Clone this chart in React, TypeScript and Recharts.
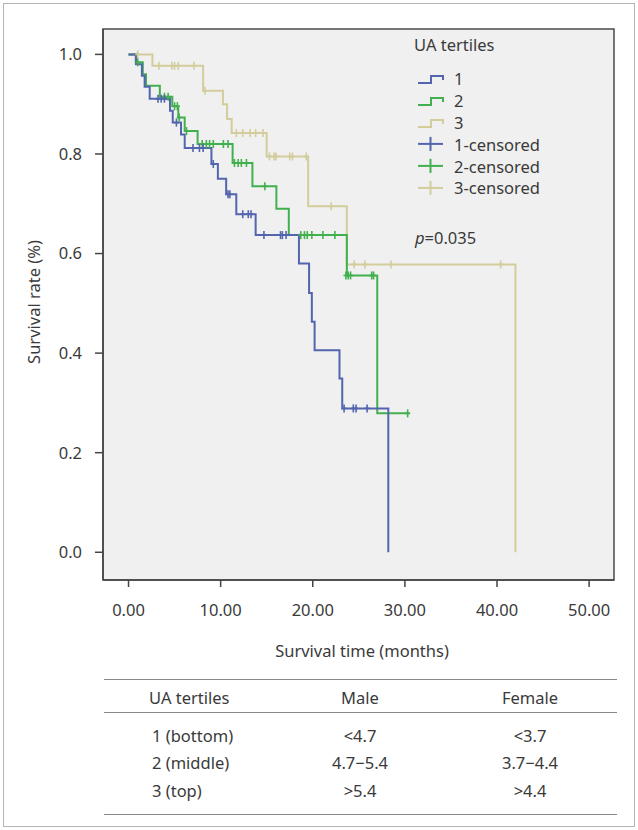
import React from "react";
import {
  ComposedChart,
  Line,
  Scatter,
  XAxis,
  YAxis,
  ReferenceArea,
} from "recharts";

// ---------- data (Kaplan-Meier steps) ----------
const T1_TIMES = [0, 0.8, 1.45, 1.75, 2.3, 4.5, 4.8, 5.7, 6.1, 9.0, 9.7, 10.6, 11.7, 13.8, 18.5, 19.6, 19.9, 20.2, 22.9, 23.2, 28.2];
const T1_SURV = [1.0, 0.98, 0.957, 0.935, 0.911, 0.887, 0.863, 0.839, 0.812, 0.78, 0.75, 0.719, 0.679, 0.637, 0.58, 0.521, 0.463, 0.406, 0.349, 0.289, 0.0];
const T1_CENS_T = [3.2, 3.55, 3.9, 5.2, 7.0, 7.7, 8.1, 9.2, 10.8, 11.0, 12.4, 13.0, 13.3, 14.7, 16.5, 16.7, 17.1, 23.4, 24.4, 24.7, 25.9];
const T1_CENS_S = [0.911, 0.911, 0.911, 0.863, 0.812, 0.812, 0.812, 0.78, 0.719, 0.719, 0.679, 0.679, 0.679, 0.637, 0.637, 0.637, 0.637, 0.289, 0.289, 0.289, 0.289];

const T2_TIMES = [0, 0.8, 1.55, 1.9, 3.4, 4.75, 5.4, 6.1, 7.5, 11.3, 13.45, 16.05, 17.4, 23.7, 27.0, 30.5];
const T2_SURV = [1.0, 0.984, 0.96, 0.937, 0.915, 0.896, 0.873, 0.846, 0.82, 0.782, 0.735, 0.69, 0.637, 0.556, 0.279, 0.279];
const T2_CENS_T = [1.0, 3.9, 4.3, 5.0, 5.3, 5.5, 6.3, 8.0, 8.45, 8.8, 9.2, 10.3, 10.8, 11.5, 11.9, 12.25, 12.8, 14.8, 18.7, 19.1, 19.4, 19.9, 21.1, 22.4, 23.6, 23.85, 24.1, 26.4, 26.6, 30.3];
const T2_CENS_S = [0.984, 0.915, 0.915, 0.896, 0.896, 0.873, 0.846, 0.82, 0.82, 0.82, 0.82, 0.82, 0.82, 0.782, 0.782, 0.782, 0.782, 0.735, 0.637, 0.637, 0.637, 0.637, 0.637, 0.637, 0.556, 0.556, 0.556, 0.556, 0.556, 0.279];

const T3_TIMES = [0, 2.6, 8.1, 10.25, 10.7, 11.2, 15.0, 19.5, 23.7, 42.0];
const T3_SURV = [1.0, 0.977, 0.927, 0.9, 0.87, 0.842, 0.795, 0.695, 0.578, 0.0];
const T3_CENS_T = [1.0, 3.3, 4.7, 5.0, 5.4, 7.1, 8.3, 11.7, 12.4, 13.2, 13.8, 14.6, 15.3, 15.8, 16.0, 17.5, 17.8, 19.3, 22.0, 24.5, 25.65, 28.5, 40.4];
const T3_CENS_S = [1.0, 0.977, 0.977, 0.977, 0.977, 0.977, 0.927, 0.842, 0.842, 0.842, 0.842, 0.842, 0.795, 0.795, 0.795, 0.795, 0.795, 0.795, 0.695, 0.578, 0.578, 0.578, 0.578];

const X_TICKS = [0, 10, 20, 30, 40, 50];
const Y_TICKS = [0, 0.2, 0.4, 0.6, 0.8, 1.0];

const SERIES_NAMES = ["1", "2", "3"];
const LEGEND_TITLE = "UA tertiles";
const P_VALUE = "=0.035";

const TABLE_HEADER = ["UA tertiles", "Male", "Female"];
const TABLE_TERTILES = ["1 (bottom)", "2 (middle)", "3 (top)"];
const TABLE_MALE = ["<4.7", "4.7\u22125.4", ">5.4"];
const TABLE_FEMALE = ["<3.7", "3.7\u22124.4", ">4.4"];

// ---------- styling ----------
const COLORS = ["#5365ae", "#42b04e", "#d3cd9c"];
const FONT = "'Noto Sans', 'Open Sans', sans-serif";
const TEXT = "#3a3a3a";
const FS = 16.5;
const X_DOMAIN: [number, number] = [-2.77, 52.7];
const Y_DOMAIN: [number, number] = [-0.0557, 1.051];

const zip = (t: number[], s: number[]) => t.map((x, i) => ({ x, y: s[i] }));

const CensorMark = (props: any) => {
  const { cx, cy, fill } = props;
  if (cx == null || cy == null) return null;
  return (
    <g>
      <line x1={cx} y1={cy - 4} x2={cx} y2={cy + 4} stroke={fill} strokeWidth={1.6} />
      <line x1={cx - 2.5} y1={cy} x2={cx + 2.5} y2={cy} stroke={fill} strokeWidth={1.6} />
    </g>
  );
};

const LegendBlock = () => {
  const rowH = 21.8;
  return (
    <div style={{ fontFamily: FONT, color: TEXT, fontSize: FS }}>
      <div style={{ height: 22, lineHeight: "22px", marginLeft: -2 }}>{LEGEND_TITLE}</div>
      <div style={{ height: 12 }} />
      {SERIES_NAMES.map((n, i) => (
        <div key={"s" + n} style={{ display: "flex", alignItems: "center", height: rowH }}>
          <svg width={38} height={rowH}>
            <path
              d={`M2,${rowH / 2 + 4} H15 V${rowH / 2 - 3} H27 V${rowH / 2 + 1}`}
              fill="none"
              stroke={COLORS[i]}
              strokeWidth={2}
            />
          </svg>
          <span>{n}</span>
        </div>
      ))}
      {SERIES_NAMES.map((n, i) => (
        <div key={"c" + n} style={{ display: "flex", alignItems: "center", height: rowH }}>
          <svg width={38} height={rowH}>
            <line x1={2} y1={rowH / 2} x2={27} y2={rowH / 2} stroke={COLORS[i]} strokeWidth={2} />
            <line x1={14.5} y1={rowH / 2 - 7} x2={14.5} y2={rowH / 2 + 7} stroke={COLORS[i]} strokeWidth={2} />
          </svg>
          <span>{n}-censored</span>
        </div>
      ))}
    </div>
  );
};

export default function App() {
  const d1 = zip(T1_TIMES, T1_SURV);
  const d2 = zip(T2_TIMES, T2_SURV);
  const d3 = zip(T3_TIMES, T3_SURV);
  const c1 = zip(T1_CENS_T, T1_CENS_S);
  const c2 = zip(T2_CENS_T, T2_CENS_S);
  const c3 = zip(T3_CENS_T, T3_CENS_S);

  const tickStyle = { fontFamily: FONT, fontSize: FS, fill: TEXT };

  const colX = [150, 360, 530];
  const rowY = [735, 762, 790];

  return (
    <div
      style={{
        position: "absolute",
        left: 0,
        top: 0,
        width: 638,
        height: 830,
        background: "#ffffff",
        fontFamily: FONT,
        color: TEXT,
      }}
    >
      <div
        style={{
          position: "absolute",
          left: 3,
          top: 3,
          width: 630,
          height: 822,
          border: "1.5px solid #b4b4b4",
        }}
      />
      <div style={{ position: "absolute", left: 0, top: 0 }}>
        <ComposedChart width={638} height={640} margin={{ top: 29, right: 24, bottom: 10, left: 43 }}>
          <XAxis
            dataKey="x"
            type="number"
            domain={X_DOMAIN}
            ticks={X_TICKS}
            allowDataOverflow
            tickFormatter={(v: number) => v.toFixed(2)}
            tick={tickStyle}
            tickSize={7}
            tickMargin={17}
            height={50}
            axisLine={{ stroke: "#444", strokeWidth: 1.5 }}
            tickLine={{ stroke: "#444", strokeWidth: 1.5 }}
          />
          <YAxis
            dataKey="y"
            type="number"
            domain={Y_DOMAIN}
            ticks={Y_TICKS}
            allowDataOverflow
            tickFormatter={(v: number) => v.toFixed(1)}
            tick={tickStyle}
            tickSize={8}
            tickMargin={13}
            width={60}
            axisLine={{ stroke: "#444", strokeWidth: 1.5 }}
            tickLine={{ stroke: "#444", strokeWidth: 1.5 }}
          />
          <ReferenceArea
            x1={X_DOMAIN[0]}
            x2={X_DOMAIN[1]}
            y1={Y_DOMAIN[0]}
            y2={Y_DOMAIN[1]}
            fill="#f0f0f0"
            fillOpacity={1}
            stroke="#4a4a4a"
            strokeWidth={1.5}
            ifOverflow="visible"
          />
          <Line data={d3} dataKey="y" type="stepAfter" stroke={COLORS[2]} strokeWidth={2} dot={false} isAnimationActive={false} legendType="none" />
          <Line data={d2} dataKey="y" type="stepAfter" stroke={COLORS[1]} strokeWidth={2} dot={false} isAnimationActive={false} legendType="none" />
          <Line data={d1} dataKey="y" type="stepAfter" stroke={COLORS[0]} strokeWidth={2} dot={false} isAnimationActive={false} legendType="none" />
          <Scatter data={c3} dataKey="y" fill={COLORS[2]} shape={<CensorMark />} isAnimationActive={false} legendType="none" />
          <Scatter data={c2} dataKey="y" fill={COLORS[1]} shape={<CensorMark />} isAnimationActive={false} legendType="none" />
          <Scatter data={c1} dataKey="y" fill={COLORS[0]} shape={<CensorMark />} isAnimationActive={false} legendType="none" />
        </ComposedChart>
      </div>

      {/* legend */}
      <div style={{ position: "absolute", left: 416, top: 34, width: 170 }}>
        <LegendBlock />
      </div>

      {/* p value */}
      <div style={{ position: "absolute", left: 415, top: 227, fontSize: FS, lineHeight: "22px" }}>
        <i>p</i>
        {P_VALUE}
      </div>

      {/* axis titles */}
      <div
        style={{
          position: "absolute",
          left: 362,
          top: 650,
          transform: "translate(-50%, -50%)",
          fontSize: FS,
          whiteSpace: "nowrap",
        }}
      >
        Survival time (months)
      </div>
      <div
        style={{
          position: "absolute",
          left: 33,
          top: 302,
          transform: "translate(-50%, -50%) rotate(-90deg)",
          fontSize: FS,
          whiteSpace: "nowrap",
        }}
      >
        Survival rate (%)
      </div>

      {/* table */}
      <div style={{ position: "absolute", left: 104, top: 679, width: 513, borderTop: "1.5px solid #8a8a8a" }} />
      <div style={{ position: "absolute", left: 104, top: 712, width: 513, borderTop: "1.5px solid #8a8a8a" }} />
      <div style={{ position: "absolute", left: 104, top: 814, width: 513, borderTop: "1.5px solid #8a8a8a" }} />
      {TABLE_HEADER.map((h, i) => (
        <div
          key={h}
          style={{
            position: "absolute",
            left: colX[i],
            top: 697,
            transform: i === 0 ? "translate(-1px, -50%)" : "translate(-50%, -50%)",
            fontSize: FS,
            whiteSpace: "nowrap",
          }}
        >
          {h}
        </div>
      ))}
      {TABLE_TERTILES.map((t, r) => (
        <React.Fragment key={t}>
          <div style={{ position: "absolute", left: colX[0] + 2, top: rowY[r], transform: "translate(0, -50%)", fontSize: FS, whiteSpace: "nowrap" }}>
            {t}
          </div>
          <div style={{ position: "absolute", left: colX[1], top: rowY[r], transform: "translate(-50%, -50%)", fontSize: FS, whiteSpace: "nowrap" }}>
            {TABLE_MALE[r]}
          </div>
          <div style={{ position: "absolute", left: colX[2], top: rowY[r], transform: "translate(-50%, -50%)", fontSize: FS, whiteSpace: "nowrap" }}>
            {TABLE_FEMALE[r]}
          </div>
        </React.Fragment>
      ))}
    </div>
  );
}
